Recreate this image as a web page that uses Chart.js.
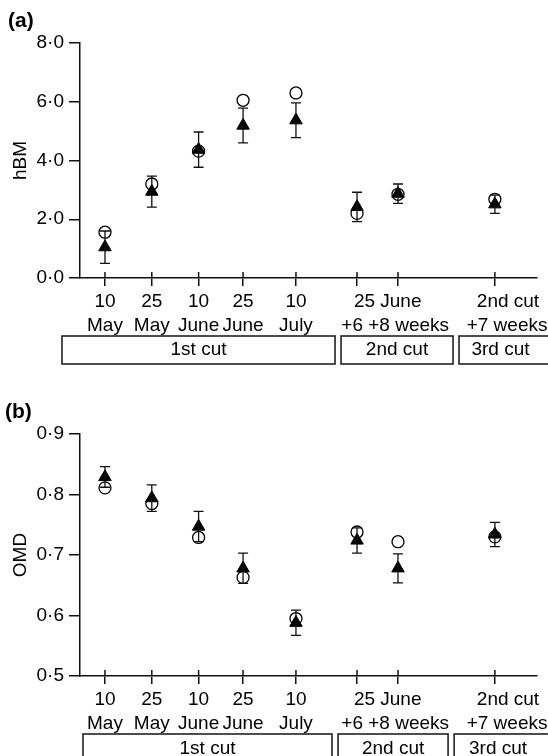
<!DOCTYPE html>
<html><head><meta charset="utf-8">
<script src="https://cdn.jsdelivr.net/npm/chart.js@4/dist/chart.umd.min.js"></script>
<style>
html,body{margin:0;padding:0;background:#fff;}
#wrap{position:relative;width:548px;height:756px;overflow:hidden;}
.pan{position:absolute;left:0;width:548px;height:378px;}
canvas{display:block;}
</style></head><body>
<div id="wrap">
<div class="pan" style="top:0"><canvas id="ca"></canvas></div>
<div class="pan" style="top:378px"><canvas id="cb"></canvas></div>
</div>
<script>
// ---- data ----
const xPositions = [1, 2, 3, 3.95, 5.08, 6.385, 7.26, 9.33];
const tickLabels = [["10","May"],["25","May"],["10","June"],["25","June"],["10","July"],"","",""];
const groupLabels = [
  {at:7.04, line:0, text:"25 June"},
  {at:7.20, line:1, text:"+6 +8 weeks"},
  {at:9.61, line:0, text:"2nd cut"},
  {at:9.59, line:1, text:"+7 weeks"}
];
const cutNames = ["1st cut","2nd cut","3rd cut"];
const cutSpansA = [[0.081,5.915],[6.043,8.436],[8.564,10.8]];
const cutSpansB = [[0.53,5.85],[5.98,8.33],[8.46,10.8]];

const hbmCircle   = [1.56, 3.20, 4.32, 6.05, 6.30, 2.20, 2.85, 2.68];
const hbmTriangle = [1.05, 2.94, 4.37, 5.19, 5.37, 2.42, 2.87, 2.51];
const hbmErr      = [0.55, 0.53, 0.60, 0.59, 0.59, 0.50, 0.33, 0.31];

const omdCircle   = [0.811, 0.785, 0.729, 0.663, 0.595, 0.738, 0.722, 0.730];
const omdTriangle = [0.829, 0.794, 0.747, 0.678, 0.588, 0.724, 0.678, 0.734];
const omdErr      = [0.017, 0.022, 0.025, 0.025, 0.021, 0.021, 0.024, 0.020];

// ---- styling ----
const FAM = "'Liberation Sans', Arial, Helvetica, sans-serif";
const FS = 19;
const INK = '#111';

function fmt(v){ return v.toFixed(1).replace('.', '\u00B7'); }

function makePanel(canvasId, opts){
  const tri = xPositions.map((x,i)=>({x, y: opts.tri[i]}));
  const cir = xPositions.map((x,i)=>({x, y: opts.cir[i]}));
  const deco = {
    id: 'deco_' + canvasId,
    afterDatasetsDraw(chart){
      const ctx = chart.ctx, xs = chart.scales.x, ys = chart.scales.y;
      ctx.save();
      ctx.strokeStyle = INK; ctx.lineWidth = 1.3;
      opts.tri.forEach((m,i)=>{
        const px = xs.getPixelForValue(xPositions[i]);
        const y1 = ys.getPixelForValue(m + opts.err[i]);
        const y2 = ys.getPixelForValue(m - opts.err[i]);
        ctx.beginPath();
        ctx.moveTo(px, y1); ctx.lineTo(px, y2);
        ctx.moveTo(px-5, y1); ctx.lineTo(px+5, y1);
        ctx.moveTo(px-5, y2); ctx.lineTo(px+5, y2);
        ctx.stroke();
      });
      ctx.restore();
    },
    afterDraw(chart){
      const ctx = chart.ctx, xs = chart.scales.x, ca = chart.chartArea;
      ctx.save();
      // inner parts of x ticks
      ctx.strokeStyle = INK; ctx.lineWidth = 1.5;
      xPositions.forEach(v=>{
        const px = xs.getPixelForValue(v);
        ctx.beginPath(); ctx.moveTo(px, ca.bottom); ctx.lineTo(px, ca.bottom-6); ctx.stroke();
      });
      // group labels
      ctx.fillStyle = '#000';
      ctx.font = FS + 'px ' + FAM;
      ctx.textAlign = 'center'; ctx.textBaseline = 'middle';
      const lh = FS*1.3;
      const y0 = ca.bottom + 8 + 3 + lh/2;
      groupLabels.forEach(g=>{
        ctx.fillText(g.text, xs.getPixelForValue(g.at), y0 + g.line*lh);
      });
      // cut boxes
      ctx.strokeStyle = '#222'; ctx.lineWidth = 1.6;
      opts.spans.forEach((s,i)=>{
        const a = xs.getPixelForValue(s[0]), b = xs.getPixelForValue(s[1]);
        ctx.strokeRect(a, opts.boxTop, b-a, opts.boxH);
        ctx.fillText(cutNames[i], (a + Math.min(b, 548))/2 + (i===2? -3:0), opts.boxTop + opts.textOff);
      });
      // panel letter
      ctx.font = 'bold 21px ' + FAM;
      ctx.textAlign = 'left';
      ctx.fillText(opts.letter, opts.letterX, opts.letterY);
      ctx.restore();
    }
  };
  return new Chart(document.getElementById(canvasId), {
    type: 'scatter',
    data: { datasets: [
      { data: tri, pointStyle: 'triangle', pointRadius: 7.2, pointBackgroundColor: '#000', pointBorderColor: '#000', pointBorderWidth: 1, showLine:false },
      { data: cir, pointStyle: 'circle', pointRadius: 6, pointBackgroundColor: 'rgba(0,0,0,0)', pointBorderColor: '#000', pointBorderWidth: 1.3, showLine:false }
    ]},
    options: {
      responsive: false, animation: false, devicePixelRatio: 1,
      events: [],
      layout: { padding: { left: 0, right: 11, top: opts.padTop, bottom: 0 } },
      plugins: { legend: {display:false}, tooltip: {enabled:false} },
      scales: {
        x: {
          type: 'linear', min: 0.466, max: 10.23,
          afterBuildTicks: s => { s.ticks = xPositions.map(v=>({value:v})); },
          afterFit: s => { s.height = opts.xH; },
          border: { display: true, color: INK, width: 1.5 },
          grid: { display: true, drawOnChartArea: false, tickLength: 8, color: INK, lineWidth: 1.5 },
          ticks: { autoSkip: false, maxRotation: 0, padding: 3, color: '#000',
                   font: { family: FAM, size: FS, lineHeight: 1.3 },
                   callback: (v, i) => tickLabels[i] }
        },
        y: {
          min: opts.ymin, max: opts.ymax,
          afterFit: s => { s.width = 80; },
          border: { display: true, color: INK, width: 1.5 },
          grid: { display: true, drawOnChartArea: false, tickLength: 11, color: INK, lineWidth: 1.5 },
          ticks: { stepSize: opts.step, padding: 5, color: '#000', font: { family: FAM, size: FS },
                   callback: v => fmt(v) },
          title: { display: true, text: opts.title, color: '#000', font: { family: FAM, size: FS }, padding: { top: 9, bottom: 0 } }
        }
      }
    },
    plugins: [deco]
  });
}

function sizeCanvas(id){ const c = document.getElementById(id); c.width = 548; c.height = 378; c.style.width='548px'; c.style.height='378px'; }
sizeCanvas('ca'); sizeCanvas('cb');

makePanel('ca', { tri: hbmTriangle, cir: hbmCircle, err: hbmErr, ymin: 0, ymax: 8, step: 2,
  title: 'hBM', padTop: 43, xH: 100, spans: cutSpansA, boxTop: 336, boxH: 28, textOff: 14,
  letter: '(a)', letterX: 8, letterY: 21 });
makePanel('cb', { tri: omdTriangle, cir: omdCircle, err: omdErr, ymin: 0.5, ymax: 0.9, step: 0.1,
  title: 'OMD', padTop: 56, xH: 80, spans: cutSpansB, boxTop: 356, boxH: 30, textOff: 14.5,
  letter: '(b)', letterX: 5, letterY: 34 });
</script>
</body></html>
